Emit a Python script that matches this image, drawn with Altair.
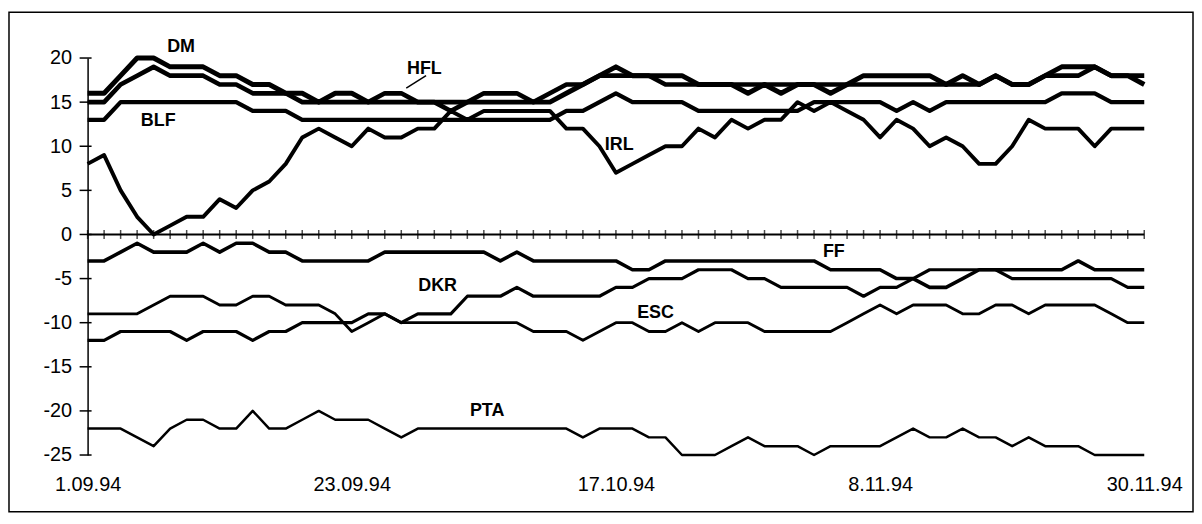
import altair as alt
import pandas as pd

# ---------------- data ----------------
tick_labels = ["1.09.94", "23.09.94", "17.10.94", "8.11.94", "30.11.94"]
tick_positions = [0, 16, 32, 48, 64]
y_ticks = [20, 15, 10, 5, 0, -5, -10, -15, -20, -25]
n_points = 65

DM = [16, 16, 18, 20, 20, 19, 19, 19, 18, 18, 17, 17, 16, 16, 15, 16, 16, 15, 15, 15,
      15, 15, 15, 15, 15, 15, 15, 15, 15, 16, 17, 18, 19, 18, 18, 18, 18, 17, 17, 17,
      16, 17, 16, 17, 17, 16, 17, 18, 18, 18, 18, 18, 17, 18, 17, 18, 17, 17, 18, 19,
      19, 19, 18, 18, 17]
HFL = [15, 15, 17, 18, 19, 18, 18, 18, 17, 17, 16, 16, 16, 15, 15, 15, 15, 15, 16, 16,
       15, 15, 14, 15, 16, 16, 16, 15, 16, 17, 17, 18, 18, 18, 18, 17, 17, 17, 17, 17,
       17, 17, 17, 17, 17, 17, 17, 17, 17, 17, 17, 17, 17, 17, 17, 18, 17, 17, 18, 18,
       18, 19, 18, 18, 18]
BLF = [13, 13, 15, 15, 15, 15, 15, 15, 15, 15, 14, 14, 14, 13, 13, 13, 13, 13, 13, 13,
       13, 13, 13, 13, 13, 13, 13, 13, 13, 14, 14, 15, 16, 15, 15, 15, 15, 14, 14, 14,
       14, 14, 14, 14, 15, 15, 15, 15, 15, 14, 15, 14, 15, 15, 15, 15, 15, 15, 15, 16,
       16, 16, 15, 15, 15]
IRL = [8, 9, 5, 2, 0, 1, 2, 2, 4, 3, 5, 6, 8, 11, 12, 11, 10, 12, 11, 11,
       12, 12, 14, 13, 14, 14, 14, 14, 14, 12, 12, 10, 7, 8, 9, 10, 10, 12, 11, 13,
       12, 13, 13, 15, 14, 15, 14, 13, 11, 13, 12, 10, 11, 10, 8, 8, 10, 13, 12, 12,
       12, 10, 12, 12, 12]
FF = [-3, -3, -2, -1, -2, -2, -2, -1, -2, -1, -1, -2, -2, -3, -3, -3, -3, -3, -2, -2,
      -2, -2, -2, -2, -2, -3, -2, -3, -3, -3, -3, -3, -3, -4, -4, -3, -3, -3, -3, -3,
      -3, -3, -3, -3, -3, -4, -4, -4, -4, -5, -5, -6, -6, -5, -4, -4, -4, -4, -4, -4,
      -3, -4, -4, -4, -4]
DKR = [-12, -12, -11, -11, -11, -11, -12, -11, -11, -11, -12, -11, -11, -10, -10, -10, -10, -9, -9, -10,
       -9, -9, -9, -7, -7, -7, -6, -7, -7, -7, -7, -7, -6, -6, -5, -5, -5, -4, -4, -4,
       -5, -5, -6, -6, -6, -6, -6, -7, -6, -6, -5, -4, -4, -4, -4, -4, -5, -5, -5, -5,
       -5, -5, -5, -6, -6]
ESC = [-9, -9, -9, -9, -8, -7, -7, -7, -8, -8, -7, -7, -8, -8, -8, -9, -11, -10, -9, -10,
       -10, -10, -10, -10, -10, -10, -10, -11, -11, -11, -12, -11, -10, -10, -11, -11, -10, -11, -10, -10,
       -10, -11, -11, -11, -11, -11, -10, -9, -8, -9, -8, -8, -8, -9, -9, -8, -8, -9, -8, -8,
       -8, -8, -9, -10, -10]
PTA = [-22, -22, -22, -23, -24, -22, -21, -21, -22, -22, -20, -22, -22, -21, -20, -21, -21, -21, -22, -23,
       -22, -22, -22, -22, -22, -22, -22, -22, -22, -22, -23, -22, -22, -22, -23, -23, -25, -25, -25, -24,
       -23, -24, -24, -24, -25, -24, -24, -24, -24, -23, -22, -23, -23, -22, -23, -23, -24, -23, -24, -24,
       -24, -25, -25, -25, -25]

series_names = ["DM", "HFL", "BLF", "IRL", "FF", "DKR", "ESC", "PTA"]
series_values = [DM, HFL, BLF, IRL, FF, DKR, ESC, PTA]

# label anchors (in data units) for the in-chart series names
label_text = ["DM", "HFL", "BLF", "IRL", "FF", "DKR", "ESC", "PTA"]
label_x = [5.66, 20.4, 4.28, 32.2, 45.2, 21.2, 34.4, 24.2]
label_y = [21.3, 18.8, 12.9, 10.1, -2.0, -5.9, -8.9, -20.0]

# ---------------- styling ----------------
line_widths = [5, 2.5, 5, 2.5, 5.5, 4, 2.5, 3]
FONT = "Liberation Sans"

rows = []
for name, vals in zip(series_names, series_values):
    for i, v in enumerate(vals):
        rows.append({"series": name, "idx": i, "value": v})
df = pd.DataFrame(rows)

xscale = alt.Scale(domain=[0, n_points - 1], nice=False, zero=False)
yscale = alt.Scale(domain=[-25, 20], nice=False, zero=False)

label_js = "[" + ",".join("'" + t + "'" for t in tick_labels) + "]"

x_axis = alt.Axis(
    values=tick_positions, labelExpr=f"{label_js}[round(datum.value/16)]",
    domain=False, ticks=False, tickSize=0, grid=False, title=None,
    labelFont=FONT, labelFontSize=20, labelColor="black", labelPadding=20,
    labelFlush=False, labelOverlap=False, labelBound=False,
)
y_axis = alt.Axis(
    values=y_ticks, labelExpr="'' + datum.value",
    domain=True, domainColor="black", domainWidth=1.5,
    ticks=False, tickSize=0, grid=False, title=None,
    labelFont=FONT, labelFontSize=20, labelColor="black", labelPadding=16,
    labelOverlap=False, labelBound=False,
)

lines = alt.Chart(df).mark_line(color="black", strokeJoin="round").encode(
    x=alt.X("idx:Q", scale=xscale, axis=x_axis),
    y=alt.Y("value:Q", scale=yscale, axis=y_axis),
    detail="series:N",
    strokeWidth=alt.StrokeWidth("series:N", scale=alt.Scale(domain=series_names, range=line_widths), legend=None),
)

frame = alt.Chart(pd.DataFrame({"k": [0]})).mark_rect(
    fillOpacity=0, stroke="black", strokeWidth=1.5
).encode(x=alt.value(-79), x2=alt.value(1111), y=alt.value(-46), y2=alt.value(456))

zero_line = alt.Chart(pd.DataFrame({"k": [0]})).mark_rule(color="black", strokeWidth=2).encode(
    x=alt.datum(0, scale=xscale), x2=alt.datum(n_points - 1), y=alt.datum(0, scale=yscale)
)

zero_ticks = alt.Chart(pd.DataFrame({"idx": list(range(n_points))})).mark_tick(
    orient="vertical", size=9, thickness=1.5, color="black"
).encode(x=alt.X("idx:Q", scale=xscale), y=alt.datum(0))

y_tick_marks = alt.Chart(pd.DataFrame({"yt": y_ticks})).mark_rule(color="black", strokeWidth=1.5).encode(
    y=alt.Y("yt:Q", scale=yscale), x=alt.value(-8), x2=alt.value(4)
)

labels = alt.Chart(pd.DataFrame({"t": label_text, "lx": label_x, "ly": label_y})).mark_text(
    font=FONT, fontSize=18, fontWeight="bold", color="black", align="center", baseline="middle"
).encode(x=alt.X("lx:Q", scale=xscale), y=alt.Y("ly:Q", scale=yscale), text="t:N")

leader = alt.Chart(pd.DataFrame({"x1": [19.3], "y1": [16.6], "x2": [20.5], "y2": [18.0]})).mark_rule(
    color="black", strokeWidth=1.5
).encode(x=alt.X("x1:Q", scale=xscale), y=alt.Y("y1:Q", scale=yscale), x2="x2:Q", y2="y2:Q")

chart = alt.layer(frame, zero_line, zero_ticks, y_tick_marks, lines, labels, leader).properties(
    width=1062, height=399,
    autosize=alt.AutoSizeParams(type="none"),
    padding={"left": 80, "top": 49, "right": 50, "bottom": 58},
    background="white",
).configure_view(stroke=None)

chart.save("out.html", embed_options={"renderer": "svg", "actions": False})
